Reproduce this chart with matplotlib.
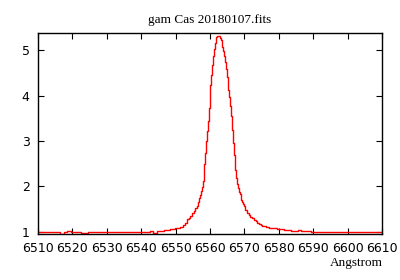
import numpy as np
import matplotlib
matplotlib.use("Agg")
import matplotlib.pyplot as plt

# wavelengths (Angstrom) and normalised flux
wave_blue = [6510, 6511, 6512, 6513, 6514, 6515, 6516, 6517, 6518, 6519,
             6520, 6521, 6522, 6523, 6524, 6525, 6526, 6527, 6528, 6529,
             6530, 6531, 6532, 6533, 6534, 6535, 6536, 6537, 6538, 6539,
             6540, 6541, 6542, 6543, 6544, 6545, 6546, 6547]
flux_blue = [0.98, 0.98, 0.98, 1.00, 1.00, 0.99, 0.99, 0.95, 1.00, 1.01,
             0.99, 0.99, 0.99, 0.97, 0.97, 0.98, 0.98, 0.98, 0.98, 0.99,
             0.99, 0.99, 0.99, 0.99, 0.99, 0.99, 0.99, 0.99, 0.99, 0.99,
             0.99, 1.00, 1.00, 1.01, 0.97, 1.02, 1.02, 1.03]

wave_wing_b = [6548.0, 6548.5, 6549.0, 6549.5, 6550.0, 6550.5, 6551.0, 6551.5,
               6552.0, 6552.5, 6553.0, 6553.5, 6554.0, 6554.5, 6555.0, 6555.5]
flux_wing_b = [1.04, 1.05, 1.06, 1.06, 1.07, 1.08, 1.09, 1.10,
               1.11, 1.15, 1.20, 1.27, 1.31, 1.35, 1.40, 1.45]

wave_core = [6556.0, 6556.25, 6556.5, 6556.75, 6557.0, 6557.25, 6557.5, 6557.75,
             6558.0, 6558.25, 6558.5, 6558.75, 6559.0, 6559.25, 6559.5, 6559.75,
             6560.0, 6560.25, 6560.5, 6560.75, 6561.0, 6561.25, 6561.5, 6561.75,
             6562.0, 6562.25, 6562.5, 6562.75, 6563.0, 6563.25, 6563.5, 6563.75,
             6564.0, 6564.25, 6564.5, 6564.75, 6565.0, 6565.25, 6565.5, 6565.75,
             6566.0, 6566.25, 6566.5, 6566.75, 6567.0, 6567.25, 6567.5, 6567.75,
             6568.0, 6568.25, 6568.5, 6568.75, 6569.0, 6569.25, 6569.5, 6569.75]
flux_core = [1.52, 1.56, 1.61, 1.66, 1.73, 1.80, 1.89, 1.99,
             2.11, 2.28, 2.49, 2.73, 2.99, 3.22, 3.45, 3.72,
             4.00, 4.23, 4.45, 4.68, 4.87, 5.03, 5.15, 5.24,
             5.30, 5.32, 5.32, 5.31, 5.28, 5.23, 5.17, 5.08,
             4.98, 4.87, 4.75, 4.59, 4.42, 4.27, 4.12, 3.97,
             3.78, 3.55, 3.25, 2.95, 2.70, 2.50, 2.35, 2.18,
             2.05, 1.96, 1.88, 1.82, 1.76, 1.70, 1.65, 1.60]

wave_wing_r = [6570.0, 6570.5, 6571.0, 6571.5, 6572.0, 6572.5, 6573.0, 6573.5,
               6574.0, 6574.5, 6575.0, 6575.5, 6576.0, 6576.5, 6577.0, 6577.5,
               6578.0]
flux_wing_r = [1.56, 1.48, 1.42, 1.37, 1.33, 1.29, 1.26, 1.24,
               1.20, 1.16, 1.14, 1.13, 1.12, 1.11, 1.10, 1.09,
               1.08]

wave_red = [6579, 6580, 6581, 6582, 6583, 6584, 6585, 6586, 6587, 6588,
            6589, 6590, 6591, 6592, 6593, 6594, 6595, 6596, 6597, 6598,
            6599, 6600, 6601, 6602, 6603, 6604, 6605, 6606, 6607, 6608,
            6609, 6610]
flux_red = [1.07, 1.06, 1.05, 1.04, 1.03, 1.02, 1.02, 1.03, 1.01, 1.01,
            1.02, 1.00, 0.99, 0.98, 0.98, 0.98, 0.98, 0.99, 0.98, 0.98,
            0.98, 0.99, 0.98, 0.98, 0.98, 0.98, 0.98, 0.98, 0.98, 0.98,
            0.98, 0.98]

wave = np.array(wave_blue + wave_wing_b + wave_core + wave_wing_r + wave_red, dtype=float)
flux = np.array(flux_blue + flux_wing_b + flux_core + flux_wing_r + flux_red)

xticks = [6510, 6520, 6530, 6540, 6550, 6560, 6570, 6580, 6590, 6600, 6610]
yticks = [1, 2, 3, 4, 5]

fig = plt.figure(figsize=(4, 2.8), dpi=100)
ax = fig.add_axes([0.095, 0.164, 0.86, 0.718])

ax.plot(wave, flux, color='red', lw=1.0, drawstyle='steps-mid')

ax.set_xlim(6510, 6610)
ax.set_ylim(0.945, 5.38)
ax.set_xticks(xticks)
ax.set_yticks(yticks)
ax.tick_params(direction='in', length=4, width=0.8, top=True, right=True,
               labelsize=9, pad=6)
for s in ax.spines.values():
    s.set_linewidth(1.0)

ax.set_title('gam Cas 20180107.fits', family='Liberation Serif', fontsize=9.5, pad=7)
fig.text(0.89, 0.06, 'Angstrom', family='Liberation Serif', fontsize=9.5,
         ha='center', va='center')

fig.savefig('out.png', dpi=100)
